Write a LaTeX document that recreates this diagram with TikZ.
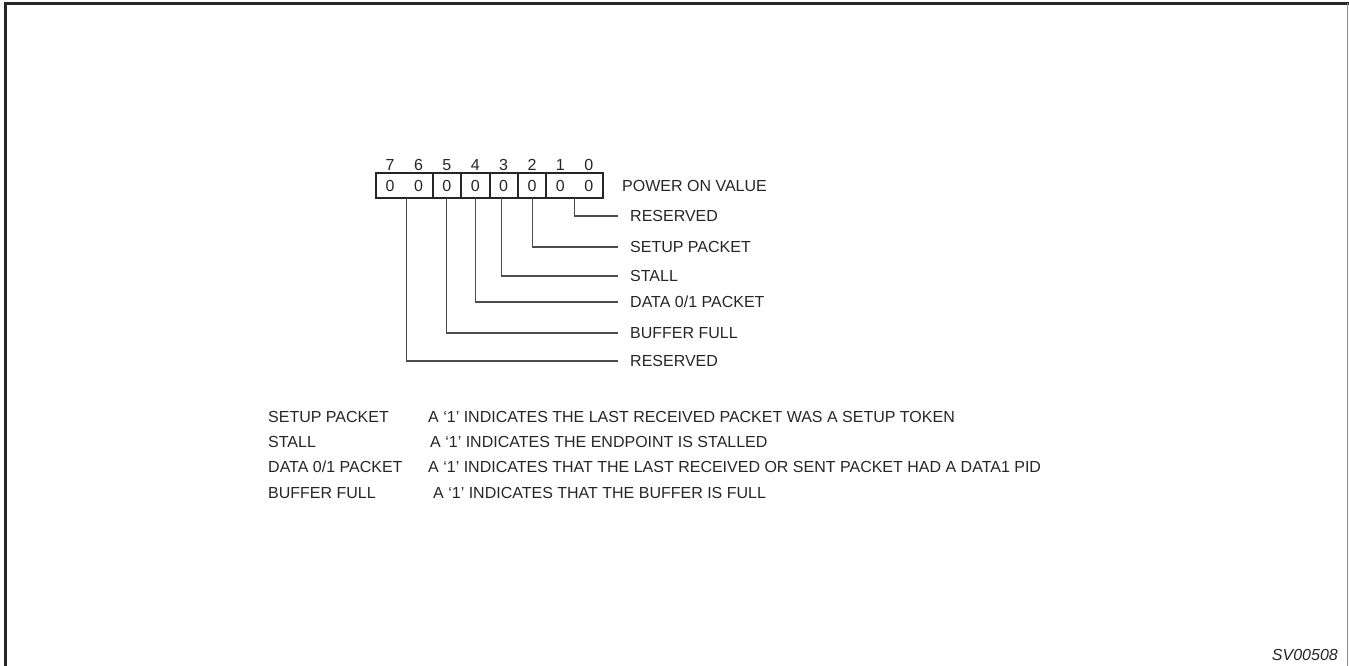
\documentclass[tikz,border=0pt]{standalone}
\usepackage{fontspec}
\setmainfont{Liberation Sans}
\begin{document}
\begin{tikzpicture}[x=1pt,y=-1pt,
  txt/.style={font=\fontsize{16}{19}\selectfont, inner sep=0pt, text height=11.5pt, text depth=0pt, text=black!85},
  bitcell/.style={minimum width=28.375pt, minimum height=24pt, inner sep=0pt, font=\fontsize{16}{19}\selectfont, text=black!85},
  bitnum/.style={txt, anchor=center},
  fieldlabel/.style={txt, anchor=west, inner xsep=12pt},
  leader/.style={draw=black!70, line width=1.1pt},
  boxline/.style={draw=black!85, line width=2pt},
  frameline/.style={draw=black!85, line width=2.5pt}
]
\useasboundingbox (0,0) rectangle (1349,666);
% frame
\draw[frameline] (5.5,666) -- (5.5,3.5) -- (1349,3.5);
\draw[draw=black!45, line width=1pt] (1347.5,3.5) -- (1347.5,666);

% bit cells
\foreach \i/\x in {7/390.19,6/418.56,5/446.94,4/475.31,3/503.69,2/532.06,1/560.44,0/588.81}{
  \node[bitcell] (b\i) at (\x,185.5) {0};
  \node[bitnum] (n\i) at (\x,164.5) {\i};
}
\draw[boxline] (b7.north west) rectangle (b0.south east);
\foreach \i in {6,5,4,3,2}{
  \draw[boxline] (b\i.north east) -- (b\i.south east);
}
\node[txt, anchor=west] (pov) at (622,186) {POWER ON VALUE};

% field labels
\node[fieldlabel] (l0) at (618,216) {RESERVED};
\node[fieldlabel] (l2) at (618,247) {SETUP PACKET};
\node[fieldlabel] (l3) at (618,276) {STALL};
\node[fieldlabel] (l4) at (618,302) {DATA 0/1 PACKET};
\node[fieldlabel] (l5) at (618,333) {BUFFER FULL};
\node[fieldlabel] (l7) at (618,361) {RESERVED};

% leaders
\draw[leader] (b1.south east) |- (l0.west);
\draw[leader] (b2.south) |- (l2.west);
\draw[leader] ([xshift=-2pt]b3.south) |- (l3.west);
\draw[leader] (b4.south) |- (l4.west);
\draw[leader] (b5.south) |- (l5.west);
\draw[leader] ([xshift=2pt]b7.south east) |- (l7.west);

% descriptions
\node[txt, anchor=west] (d1) at (268,417) {SETUP PACKET};
\node[txt, anchor=west] (e1) at (428,417) {A `1' INDICATES THE LAST RECEIVED PACKET WAS A SETUP TOKEN};
\node[txt, anchor=west] (d2) at (268,442) {STALL};
\node[txt, anchor=west] (e2) at (430,442) {A `1' INDICATES THE ENDPOINT IS STALLED};
\node[txt, anchor=west] (d3) at (268,467) {DATA 0/1 PACKET};
\node[txt, anchor=west] (e3) at (428,467) {A `1' INDICATES THAT THE LAST RECEIVED OR SENT PACKET HAD A DATA1 PID};
\node[txt, anchor=west] (d4) at (268,493) {BUFFER FULL};
\node[txt, anchor=west] (e4) at (433,493) {A `1' INDICATES THAT THE BUFFER IS FULL};

\node[txt, anchor=east, font=\fontsize{16}{19}\selectfont\itshape] (sv) at (1338,655) {SV00508};
\end{tikzpicture}
\end{document}
